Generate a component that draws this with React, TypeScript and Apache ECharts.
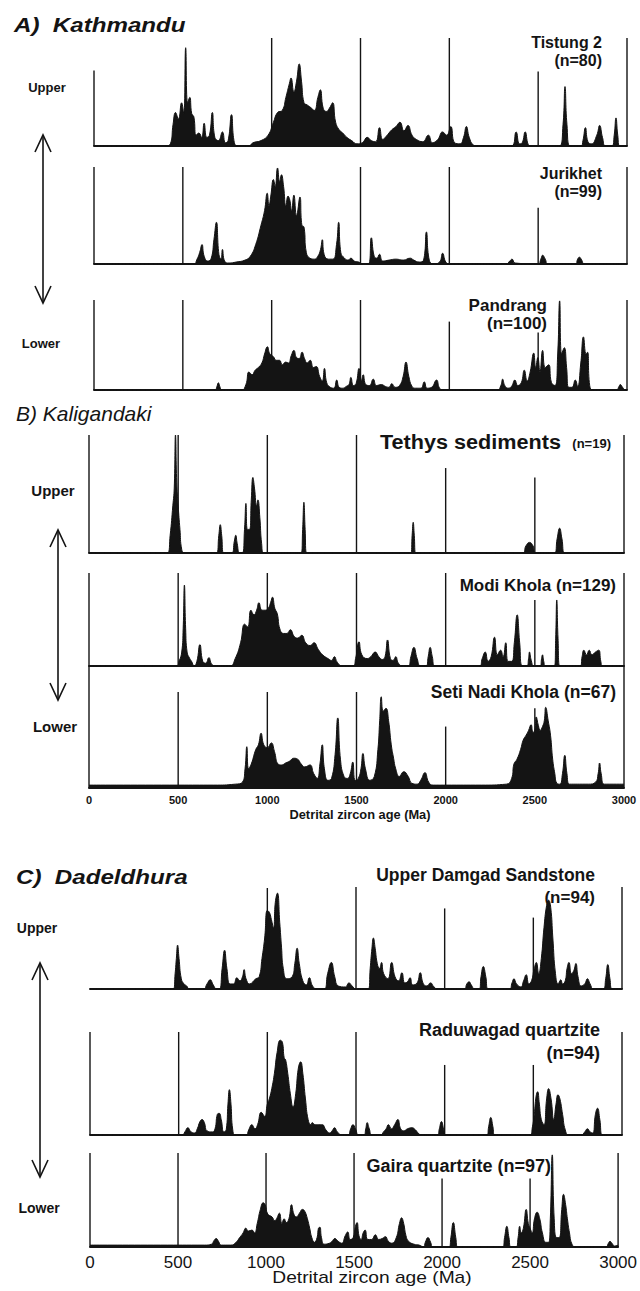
import React, { useEffect, useRef } from "react";
import * as echarts from "echarts";

const ageTicks = [0, 500, 1000, 1500, 2000, 2500, 3000];

// Probability density curves, [age (Ma), relative height %]
const tistung2 = [[0,0],[400,0],[430,2],[445,20],[459,31],[475,25],[493,40],[505,30],[516,91],[527,40],[539,45],[550,30],[562,27],[575,10],[590,12],[606,8],[620,21],[635,8],[650,10],[666,31],[680,8],[700,5],[723,13],[740,3],[755,5],[774,29],[790,3],[810,0],[870,0],[895,3],[940,5],[980,10],[1010,22],[1033,31],[1060,33],[1080,45],[1100,58],[1109,63],[1125,50],[1140,60],[1155,76],[1168,60],[1182,40],[1200,38],[1217,36],[1240,33],[1260,45],[1274,52],[1290,35],[1308,32],[1325,35],[1343,40],[1360,22],[1380,15],[1400,12],[1423,8],[1450,5],[1480,2],[1510,3],[1538,8],[1560,5],[1585,4],[1607,17],[1625,6],[1645,9],[1676,15],[1700,18],[1722,22],[1745,14],[1767,19],[1790,10],[1815,6],[1850,4],[1882,10],[1905,3],[1935,6],[1962,13],[1985,10],[2008,18],[2030,3],[2060,2],[2080,8],[2096,18],[2112,8],[2135,1],[2160,0],[2350,0],[2376,13],[2395,2],[2410,3],[2427,13],[2445,1],[2460,0],[2620,0],[2640,20],[2651,55],[2662,20],[2680,0],[2740,0],[2752,5],[2766,17],[2780,4],[2800,2],[2830,10],[2846,19],[2862,8],[2880,0],[2915,0],[2928,10],[2938,26],[2948,10],[2960,0],[3000,0]];
const jurikhet = [[0,0],[560,0],[580,5],[595,12],[608,20],[620,8],[640,3],[660,6],[675,25],[689,43],[703,10],[715,5],[723,15],[735,3],[760,1],[800,2],[850,4],[880,8],[910,20],[940,40],[960,55],[975,73],[985,60],[995,70],[1010,87],[1020,80],[1033,99],[1045,85],[1055,92],[1067,80],[1080,60],[1092,70],[1102,66],[1112,55],[1125,71],[1140,50],[1159,69],[1170,40],[1182,38],[1195,12],[1215,6],[1240,5],[1260,8],[1275,15],[1285,25],[1295,10],[1320,5],[1345,5],[1365,20],[1377,43],[1389,12],[1410,6],[1430,4],[1446,6],[1465,3],[1490,2],[1510,0],[1545,0],[1561,27],[1577,8],[1592,6],[1607,10],[1625,3],[1660,4],[1700,5],[1740,4],[1780,6],[1800,4],[1830,2],[1855,4],[1871,33],[1887,4],[1910,0],[1945,2],[1962,11],[1980,2],[2000,0],[2320,0],[2340,3],[2353,5],[2370,1],[2500,0],[2515,5],[2525,9],[2540,5],[2555,0],[2710,0],[2722,5],[2732,7],[2745,4],[2760,0],[3000,0]];
const pandrang = [[0,0],[680,0],[692,4],[700,8],[708,4],[720,0],[830,0],[855,6],[872,20],[890,17],[907,22],[925,25],[945,30],[960,40],[976,48],[990,40],[1010,37],[1025,33],[1044,33],[1060,28],[1079,31],[1095,30],[1110,38],[1125,44],[1140,36],[1155,35],[1171,42],[1185,35],[1200,30],[1217,33],[1235,25],[1251,26],[1270,15],[1285,10],[1297,24],[1310,8],[1330,3],[1350,2],[1366,11],[1380,3],[1400,2],[1420,4],[1435,6],[1446,14],[1460,5],[1475,7],[1492,24],[1505,10],[1515,17],[1530,6],[1550,5],[1572,12],[1590,5],[1618,6],[1640,4],[1660,3],[1676,7],[1695,3],[1720,5],[1740,15],[1756,31],[1772,15],[1790,4],[1810,2],[1840,2],[1859,9],[1875,2],[1900,3],[1928,11],[1945,2],[1965,0],[2270,0],[2290,5],[2300,12],[2312,5],[2330,2],[2350,4],[2369,11],[2385,5],[2405,8],[2422,22],[2438,10],[2455,20],[2475,41],[2486,25],[2498,36],[2510,20],[2525,44],[2540,25],[2559,28],[2575,8],[2595,5],[2610,40],[2621,99],[2632,40],[2647,47],[2660,25],[2672,3],[2690,3],[2709,11],[2722,4],[2740,30],[2755,59],[2770,40],[2778,42],[2790,5],[2810,0],[2940,0],[2955,4],[2962,6],[2975,3],[2990,0],[3000,0]];
const tethys = [[0,0],[440,0],[455,15],[470,40],[478,55],[485,100],[492,60],[500,40],[510,20],[520,3],[535,0],[715,0],[728,15],[736,24],[744,15],[755,0],[800,0],[815,10],[823,15],[831,8],[845,0],[860,0],[872,20],[880,42],[888,20],[900,20],[910,45],[919,64],[928,55],[940,40],[947,45],[958,30],[968,8],[980,0],[1190,0],[1198,20],[1205,43],[1212,20],[1220,0],[1805,0],[1812,15],[1818,26],[1824,15],[1832,0],[2430,0],[2450,6],[2470,9],[2490,6],[2505,0],[2610,0],[2625,12],[2639,21],[2652,12],[2668,0],[3000,0]];
const modiKhola = [[0,0],[490,0],[505,5],[520,15],[528,40],[535,87],[542,40],[550,15],[565,8],[575,5],[590,0],[605,5],[622,23],[638,5],[655,3],[672,9],[688,2],[710,0],[790,0],[820,8],[850,25],[873,45],[890,42],[908,60],[925,55],[940,60],[953,68],[970,60],[988,60],[1005,62],[1018,68],[1029,74],[1042,62],[1056,56],[1070,40],[1090,35],[1110,35],[1129,39],[1150,32],[1170,30],[1193,33],[1215,25],[1240,22],[1262,25],[1285,18],[1310,12],[1340,8],[1360,6],[1376,10],[1392,4],[1420,0],[1480,0],[1495,8],[1514,26],[1530,12],[1560,8],[1580,10],[1605,15],[1625,10],[1645,7],[1660,10],[1674,28],[1690,8],[1705,6],[1720,10],[1735,3],[1760,0],[1790,0],[1805,10],[1822,20],[1840,8],[1860,0],[1890,0],[1902,10],[1913,20],[1925,10],[1940,0],[2190,0],[2205,8],[2222,15],[2238,5],[2255,10],[2274,31],[2290,12],[2308,17],[2322,10],[2337,25],[2350,5],[2370,5],[2385,25],[2401,55],[2415,25],[2430,0],[2455,0],[2465,8],[2470,15],[2480,6],[2495,0],[2530,0],[2538,8],[2543,12],[2550,5],[2560,0],[2610,0],[2617,30],[2623,71],[2630,30],[2640,0],[2755,0],[2765,10],[2775,17],[2790,12],[2805,17],[2820,12],[2840,15],[2858,17],[2870,5],[2880,0],[3000,0]];
const setiNadiKhola = [[0,3],[500,3],[700,3],[820,4],[860,6],[875,20],[885,43],[895,20],[910,25],[935,40],[950,45],[965,57],[980,45],[1000,42],[1022,47],[1040,38],[1060,25],[1080,24],[1102,26],[1125,28],[1148,31],[1170,30],[1190,25],[1210,22],[1239,24],[1260,15],[1280,10],[1295,25],[1308,45],[1320,20],[1340,8],[1360,10],[1380,35],[1395,73],[1410,30],[1430,12],[1450,10],[1465,15],[1479,27],[1493,8],[1510,10],[1525,20],[1536,36],[1550,20],[1575,8],[1600,12],[1620,40],[1630,70],[1639,95],[1650,80],[1665,83],[1680,70],[1695,45],[1708,31],[1720,20],[1740,12],[1765,17],[1790,12],[1810,5],[1840,4],[1860,8],[1884,16],[1905,6],[1930,3],[2000,3],[2200,3],[2340,4],[2370,10],[2383,25],[2400,30],[2420,40],[2435,50],[2451,55],[2465,60],[2479,66],[2490,58],[2500,60],[2508,74],[2520,65],[2530,60],[2543,64],[2553,70],[2561,84],[2575,70],[2588,55],[2600,30],[2612,15],[2623,5],[2640,4],[2655,15],[2668,34],[2680,15],[2695,4],[2800,4],[2840,6],[2855,15],[2863,26],[2872,15],[2890,4],[3000,4]];
const upperDamgad = [[0,0],[470,0],[480,15],[487,30],[494,43],[502,30],[515,10],[530,5],[545,3],[560,0],[640,0],[660,5],[678,9],[695,4],[715,0],[730,0],[745,20],[759,38],[772,20],[790,5],[810,5],[828,11],[845,8],[860,12],[869,19],[880,10],[900,5],[935,10],[954,12],[970,30],[985,50],[1000,77],[1012,75],[1023,68],[1035,60],[1045,85],[1057,94],[1070,65],[1080,41],[1090,20],[1110,10],[1140,12],[1155,25],[1168,40],[1180,25],[1200,8],[1220,4],[1237,11],[1255,3],[1280,0],[1320,0],[1340,15],[1361,26],[1380,12],[1400,3],[1440,2],[1460,6],[1478,3],[1500,0],[1570,0],[1580,20],[1590,40],[1598,50],[1608,40],[1620,25],[1632,20],[1644,26],[1656,15],[1680,10],[1701,26],[1720,12],[1740,8],[1759,16],[1775,6],[1790,7],[1805,11],[1820,4],[1845,6],[1862,16],[1880,5],[1900,3],[1920,6],[1940,2],[1960,0],[2110,0],[2125,5],[2138,7],[2150,4],[2170,0],[2195,0],[2205,12],[2218,22],[2232,12],[2245,0],[2365,0],[2380,6],[2391,10],[2405,5],[2430,2],[2445,8],[2460,14],[2475,5],[2490,8],[2505,20],[2517,26],[2530,15],[2545,30],[2560,60],[2575,82],[2586,87],[2598,80],[2610,50],[2625,15],[2640,5],[2655,9],[2665,5],[2680,8],[2690,20],[2701,26],[2715,15],[2728,18],[2740,25],[2752,12],[2770,3],[2790,5],[2805,10],[2820,5],[2840,0],[2895,0],[2908,10],[2920,24],[2932,10],[2945,0],[3000,0]];
const raduwagad = [[0,0],[520,0],[535,3],[552,7],[570,3],[590,2],[605,6],[620,13],[632,15],[645,12],[660,4],[690,3],[705,6],[718,20],[729,21],[740,15],[755,3],[768,5],[778,30],[786,44],[795,30],[805,5],[820,0],[880,0],[895,5],[913,10],[930,6],[945,10],[966,22],[985,18],[1000,30],[1011,35],[1025,45],[1040,60],[1055,80],[1073,92],[1085,90],[1095,75],[1103,73],[1115,60],[1130,40],[1145,27],[1160,40],[1175,65],[1188,71],[1200,60],[1215,35],[1230,15],[1245,10],[1253,12],[1270,10],[1290,10],[1310,10],[1330,5],[1350,2],[1365,4],[1379,7],[1395,3],[1420,0],[1455,0],[1470,6],[1483,10],[1497,6],[1515,0],[1545,0],[1555,6],[1563,12],[1575,6],[1590,0],[1640,0],[1655,3],[1670,6],[1683,10],[1700,6],[1718,10],[1736,15],[1752,6],[1770,4],[1790,6],[1816,7],[1835,5],[1850,2],[1870,0],[1960,0],[1970,6],[1982,13],[1994,6],[2005,0],[2238,0],[2248,8],[2260,17],[2272,8],[2282,0],[2480,0],[2495,8],[2505,20],[2516,38],[2524,42],[2534,30],[2545,15],[2560,10],[2575,35],[2586,45],[2600,35],[2615,15],[2628,30],[2639,39],[2650,35],[2665,20],[2680,5],[2700,0],[2770,0],[2790,3],[2805,6],[2820,3],[2835,2],[2850,20],[2862,26],[2875,15],[2890,0],[3000,0]];
const gaira = [[0,2],[400,2],[650,2],[690,3],[705,7],[717,9],[730,6],[745,2],[800,2],[830,5],[850,10],[870,15],[885,20],[900,17],[920,18],[935,15],[950,25],[968,40],[984,47],[995,45],[1010,35],[1034,32],[1050,28],[1060,30],[1076,36],[1090,25],[1103,30],[1115,26],[1130,30],[1145,45],[1158,35],[1172,32],[1190,36],[1207,40],[1220,38],[1235,30],[1248,20],[1260,10],[1275,5],[1290,10],[1298,20],[1306,21],[1315,10],[1330,3],[1360,4],[1375,6],[1391,9],[1410,6],[1430,4],[1450,12],[1464,16],[1478,8],[1495,10],[1508,22],[1517,26],[1528,12],[1540,8],[1552,15],[1563,18],[1578,8],[1600,8],[1621,13],[1640,8],[1660,9],[1678,11],[1695,6],[1715,4],[1740,10],[1758,25],[1770,31],[1782,25],[1795,12],[1810,6],[1840,3],[1870,2],[1895,0],[1905,5],[1920,10],[1935,5],[1948,0],[2040,0],[2050,10],[2064,26],[2078,10],[2090,0],[2345,0],[2355,10],[2368,22],[2380,10],[2392,0],[2420,0],[2432,10],[2441,22],[2450,15],[2462,20],[2478,40],[2490,25],[2500,20],[2512,15],[2525,30],[2540,37],[2555,30],[2570,15],[2590,5],[2605,5],[2615,30],[2626,98],[2637,30],[2651,10],[2665,10],[2680,40],[2690,56],[2702,45],[2712,30],[2724,15],[2738,3],[2760,0],[2930,0],[2945,4],[2954,6],[2965,4],[2980,1],[3000,2]];

// heights (%) of the vertical reference lines at each age tick (null = not drawn)
const tistungLines = [70, null, 100, 100, 100, 69, 100];
const jurikhetLines = [100, 100, null, 100, 100, 58, 100];
const pandrangLines = [100, 100, 100, 100, 76, 64, 100];
const tethysLines = [100, 100, 100, 100, 72, 64, 100];
const modiLines = [100, 100, 100, 100, 100, 71, 100];
const setiLines = [127, 100, 100, 100, 64, 83, 127];
const damgadLines = [null, null, 99, 100, 79, 70, 100];
const raduwagadLines = [100, 100, 100, 100, 68, 68, 100];
const gairaLines = [100, 100, 100, 100, 73, 73, 100];

const INK = "#141414";
const FONT = "'Liberation Sans', Arial, sans-serif";

type Panel = {
  data: number[][];
  lines: (number | null)[];
  top: number;
  height: number;
  left: number;
  right: number;
  labels?: "B" | "C";
};

const panels: Panel[] = [
  { data: tistung2, lines: tistungLines, top: 38, height: 108, left: 94, right: 13 },
  { data: jurikhet, lines: jurikhetLines, top: 167, height: 97, left: 94, right: 13 },
  { data: pandrang, lines: pandrangLines, top: 300, height: 90, left: 94, right: 13 },
  { data: tethys, lines: tethysLines, top: 435, height: 118, left: 89, right: 16 },
  { data: modiKhola, lines: modiLines, top: 573, height: 93, left: 89, right: 16 },
  { data: setiNadiKhola, lines: setiLines, top: 692, height: 96, left: 89, right: 16, labels: "B" },
  { data: upperDamgad, lines: damgadLines, top: 887, height: 102, left: 90, right: 18 },
  { data: raduwagad, lines: raduwagadLines, top: 1032, height: 103, left: 90, right: 18 },
  { data: gaira, lines: gairaLines, top: 1153, height: 94, left: 90, right: 18, labels: "C" },
];

function txt(
  text: string,
  x: number,
  y: number,
  size: number,
  o: { w?: string; i?: boolean; a?: string; sx?: number } = {}
) {
  const align = o.a || "left";
  return {
    type: "text",
    x,
    y,
    scaleX: o.sx || 1,
    silent: true,
    style: {
      text,
      fontSize: size,
      fontWeight: o.w || "bold",
      fontStyle: o.i ? "italic" : "normal",
      fontFamily: FONT,
      fill: INK,
      align,
      textAlign: align,
      verticalAlign: "middle",
      textVerticalAlign: "middle",
    },
  };
}

function arrow(x: number, y1: number, y2: number) {
  const w = 8;
  const d = 17;
  const st = { stroke: INK, lineWidth: 1.6, fill: "none" };
  return [
    { type: "line", silent: true, shape: { x1: x, y1, x2: x, y2 }, style: st },
    { type: "polyline", silent: true, shape: { points: [[x - w, y1 + d], [x, y1], [x + w, y1 + d]] }, style: st },
    { type: "polyline", silent: true, shape: { points: [[x - w, y2 - d], [x, y2], [x + w, y2 - d]] }, style: st },
  ];
}

export default function App() {
  const ref = useRef<HTMLDivElement>(null);
  useEffect(() => {
    document.body.style.margin = "0";
    if (!ref.current) return;
    const chart = echarts.init(ref.current, null, { renderer: "svg" });

    const grid: any[] = [];
    const xAxis: any[] = [];
    const yAxis: any[] = [];
    const series: any[] = [];
    const plain = (v: number) => String(v);

    panels.forEach((p, i) => {
      grid.push({ left: p.left, right: p.right, top: p.top, height: p.height, containLabel: false });
      const lab =
        p.labels === "B"
          ? { show: true, formatter: plain, fontSize: 11, fontWeight: "bold", fontFamily: FONT, color: INK, margin: 6, showMinLabel: true, showMaxLabel: true, hideOverlap: false }
          : p.labels === "C"
          ? { show: true, formatter: plain, fontSize: 17, fontWeight: "normal", fontFamily: FONT, color: INK, margin: 7, showMinLabel: true, showMaxLabel: true, hideOverlap: false }
          : { show: false };
      xAxis.push({
        type: "value",
        gridIndex: i,
        min: ageTicks[0],
        max: ageTicks[ageTicks.length - 1],
        interval: 500,
        axisLine: { show: true, onZero: false, lineStyle: { color: INK, width: 2 } },
        axisTick: { show: false },
        splitLine: { show: false },
        axisLabel: lab,
      });
      yAxis.push({
        type: "value",
        gridIndex: i,
        min: 0,
        max: 100,
        show: false,
        splitLine: { show: false },
      });
      series.push({
        type: "line",
        xAxisIndex: i,
        yAxisIndex: i,
        data: p.data,
        smooth: 0.5,
        showSymbol: false,
        symbol: "none",
        clip: true,
        lineStyle: { color: INK, width: 1 },
        areaStyle: { color: INK, opacity: 1 },
        silent: true,
      });
      const lineData = ageTicks
        .map((a, k) => [a, p.lines[k]])
        .filter((d) => d[1] !== null);
      series.push({
        type: "custom",
        xAxisIndex: i,
        yAxisIndex: i,
        clip: false,
        silent: true,
        data: lineData,
        encode: { x: 0, y: 1 },
        renderItem: (_params: any, api: any) => {
          const a = api.value(0);
          const h = api.value(1);
          const p0 = api.coord([a, 0]);
          const p1 = api.coord([a, h]);
          return {
            type: "line",
            shape: { x1: p0[0], y1: p0[1], x2: p1[0], y2: p1[1] },
            style: { stroke: INK, lineWidth: 1.4 },
          };
        },
      });
    });

    const graphic: any[] = [
      // A) Kathmandu
      txt("A)  Kathmandu", 14, 25, 21, { i: true, sx: 1.15 }),
      txt("Tistung 2", 602, 42, 16, { a: "right" }),
      txt("(n=80)", 602, 60, 16, { a: "right" }),
      txt("Jurikhet", 602, 173, 16, { a: "right" }),
      txt("(n=99)", 602, 191, 16, { a: "right" }),
      txt("Pandrang", 547, 305, 17, { a: "right" }),
      txt("(n=100)", 547, 323, 17, { a: "right" }),
      txt("Upper", 47, 87, 13, { a: "center" }),
      txt("Lower", 41, 343, 13, { a: "center" }),
      ...arrow(43, 135, 303),
      // B) Kaligandaki
      txt("B) Kaligandaki", 16, 413, 21, { i: true, w: "normal" }),
      txt("Tethys sediments", 380, 442, 21, { sx: 1.03 }),
      txt("(n=19)", 611, 443, 13, { a: "right" }),
      txt("Modi Khola (n=129)", 616, 585, 17, { a: "right" }),
      txt("Seti Nadi Khola (n=67)", 616, 692, 17.5, { a: "right" }),
      txt("Upper", 53, 490, 15, { a: "center" }),
      txt("Lower", 55, 726, 15, { a: "center" }),
      ...arrow(58, 530, 700),
      txt("Detrital zircon age (Ma)", 360, 815, 12, { a: "center", sx: 1.07 }),
      // C) Dadeldhura
      txt("C)  Dadeldhura", 16, 877, 21, { i: true, sx: 1.15 }),
      txt("Upper Damgad Sandstone", 595, 875, 17.5, { a: "right" }),
      txt("(n=94)", 595, 897, 17, { a: "right" }),
      txt("Raduwagad quartzite", 600, 1030, 18, { a: "right" }),
      txt("(n=94)", 600, 1053, 18, { a: "right" }),
      txt("Gaira quartzite (n=97)", 551, 1166, 18, { a: "right" }),
      txt("Upper", 37, 928, 14, { a: "center" }),
      txt("Lower", 39, 1208, 14, { a: "center" }),
      ...arrow(40, 963, 1177),
      txt("Detrital zircon age (Ma)", 372, 1278, 16, { a: "center", w: "normal", sx: 1.2 }),
    ];

    chart.setOption({
      animation: false,
      backgroundColor: "#ffffff",
      grid,
      xAxis,
      yAxis,
      series,
      graphic,
    });
    return () => chart.dispose();
  }, []);
  return <div ref={ref} style={{ width: 640, height: 1291 }} />;
}
